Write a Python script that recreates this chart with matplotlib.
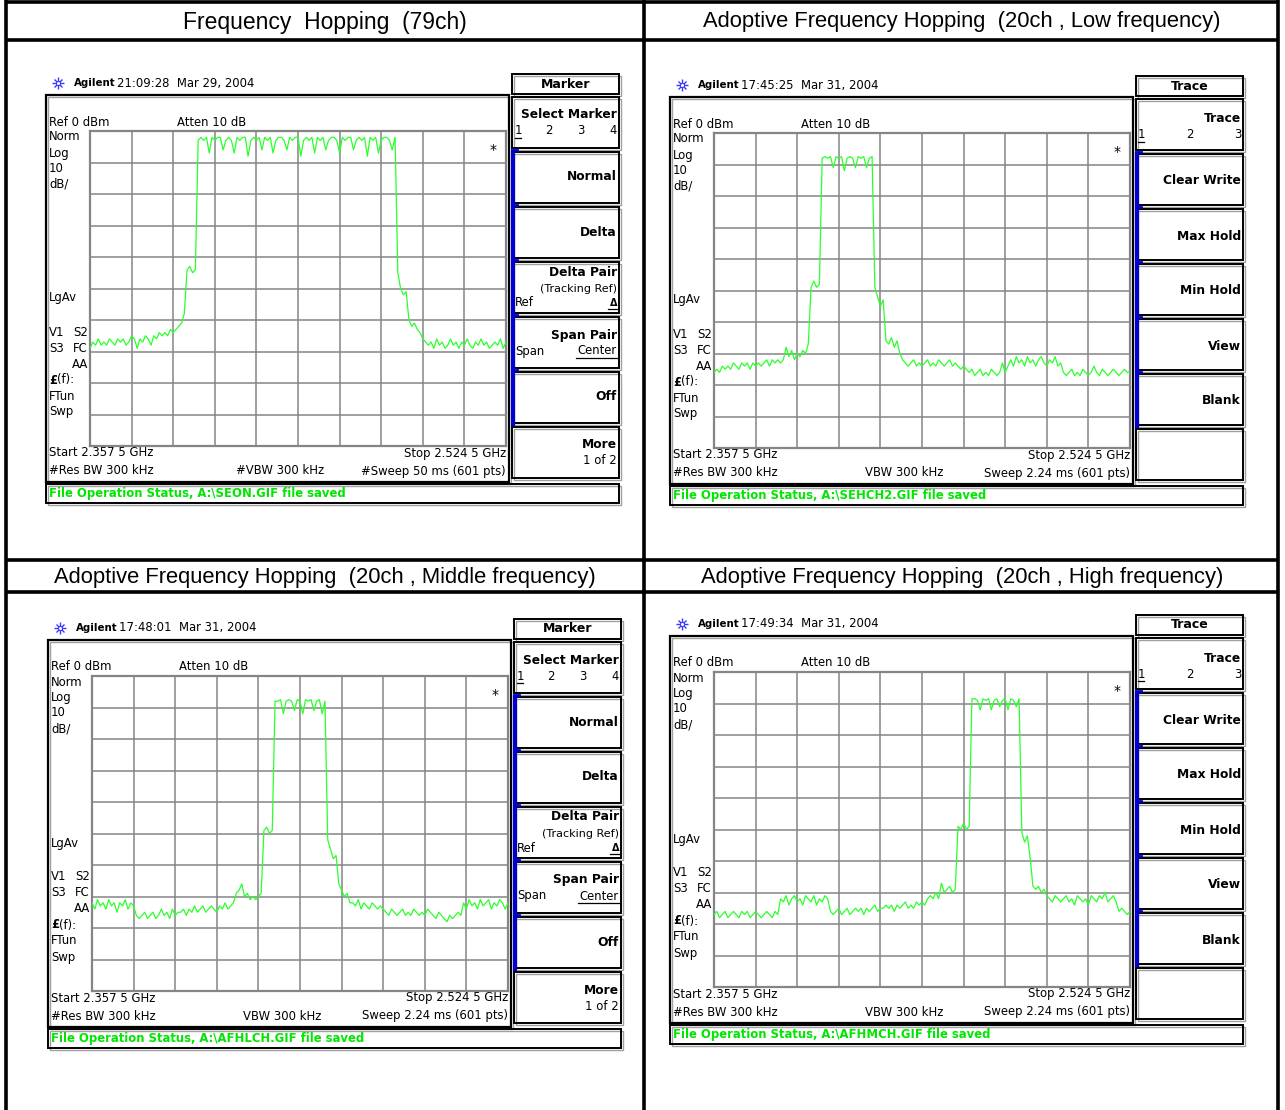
import numpy as np
import matplotlib
matplotlib.use("Agg")
import matplotlib.pyplot as plt
from matplotlib.patches import Rectangle

W, H = 1285, 1110

# sweep settings (same on all four analyzer screens)
f_start = 2357.5   # MHz
f_stop = 2524.5    # MHz
ref_level = 0      # dBm
db_per_div = 10

titles = ["Frequency  Hopping  (79ch)",
          "Adoptive Frequency Hopping  (20ch , Low frequency)",
          "Adoptive Frequency Hopping  (20ch , Middle frequency)",
          "Adoptive Frequency Hopping  (20ch , High frequency)"]

# trace levels in dBm (every 4th of the 601 sweep points)
fh79_level = [
    -69, -67, -68, -66, -68, -67, -68, -66, -67, -68, -66, -67, -66, -68, -67, -65,
    -66, -69, -66, -67, -65, -66, -68, -65, -66, -64, -65, -64, -65, -63, -64, -63,
    -62, -61, -58, -44, -43, -45, -44, -3,
    -2, -3, -2, -7, -2, -3, -2, -2, -6, -3, -2, -3, -7, -2, -3, -2, -2, -8, -3, -2,
    -3, -2, -6, -2, -3, -2, -7, -3, -2, -2, -3, -6, -2, -3, -2, -2, -8, -3, -2, -3,
    -2, -7, -2, -3, -2, -6, -3, -2, -2, -3, -7, -2, -3, -2, -2, -6, -3, -2, -3, -2,
    -8, -2, -3, -2, -7, -3, -2, -2, -3, -6, -2,
    -45, -50, -52, -51, -60, -62, -61, -63, -64, -66,
    -67, -68, -67, -69, -66, -68, -67, -69, -68, -66, -68, -67, -69, -67, -68, -66,
    -68, -69, -67, -68, -66, -68, -67, -69, -68, -67, -68, -66, -69, -67]

afh_low_level = [
    -76, -75, -76, -74, -75, -74, -75, -73, -74, -75, -73, -74, -73, -75, -73, -74,
    -73, -74, -73, -72, -74, -72, -73, -72, -73, -72,
    -68, -71, -69, -72, -70, -71, -69, -70, -67, -49, -47, -49, -48, -8,
    -7.5, -8, -7.5, -11, -7.5, -8, -7.5, -12, -8, -7.5, -8, -11, -7.5, -8, -7.5, -11,
    -8, -7.5,
    -49, -52, -55, -53, -66, -67, -65, -68, -66, -70, -72,
    -73, -74, -73, -72, -74, -73, -74, -73, -72, -74, -73, -74, -72, -73, -74, -73,
    -72, -74, -73, -74, -75, -74,
    -75, -76, -75, -77, -76, -75, -77, -76, -77, -75, -76, -77, -76,
    -73, -76, -74,
    -72, -74, -71, -73, -72, -74, -71, -73, -72, -74, -72, -71, -73, -74, -72, -73,
    -71, -74, -73,
    -76, -77, -76, -75, -77, -76, -77, -75, -76, -77, -76,
    -74, -76, -77, -75, -76, -77, -76, -75, -76, -77, -76, -75, -76, -76]

afh_mid_level = [
    -72, -74, -71, -73, -72, -74, -71, -73, -72, -75, -72, -73, -71, -74, -72, -73,
    -76, -77, -76, -75, -77, -76, -75, -77, -76, -74, -76, -75, -77, -74, -76, -75,
    -75, -74, -76, -74, -75, -73, -75, -74, -73, -75, -74, -73, -74, -75, -73, -74,
    -72, -74, -73, -72,
    -69, -68, -66, -70, -69, -71, -70, -71, -70, -69, -49, -48, -50, -49, -8,
    -8, -7.5, -12, -8, -7.5, -8, -11, -7.5, -8, -12, -7.5, -8, -7.5, -11, -8, -7.5,
    -12, -8,
    -52, -55, -58, -57, -66, -68, -70, -69, -72,
    -72, -73, -71, -74, -72, -73, -74, -72, -73, -74, -73, -74,
    -75, -76, -74, -75, -76, -75, -74, -76, -75, -76, -74, -75, -76, -75, -76, -74,
    -75, -76, -77, -75, -76, -77, -78,
    -76, -77, -76, -75, -76,
    -72, -74, -71, -73, -72, -74, -71, -73, -72, -71, -74, -72, -73, -71, -72, -74,
    -72]

afh_high_level = [
    -77, -76, -78, -77, -76, -78, -77, -76, -77, -78, -76, -77, -76, -78, -77, -76,
    -77, -78, -77, -76, -77, -78, -76, -77,
    -72, -73, -71, -74, -72, -71, -73, -72, -74, -71, -72, -73, -71, -74, -72, -73,
    -71, -72,
    -76, -77, -76, -75, -77, -76, -75, -77, -76, -75, -76, -75, -77, -75, -76, -75,
    -74, -76, -75,
    -75, -74, -75, -74, -76, -74, -75, -74, -73, -75, -74, -75, -73, -74, -73, -74,
    -72, -71, -72, -70, -72, -67,
    -70, -69, -68, -70, -69,
    -49, -50, -48, -50, -49, -8.5,
    -8.5, -9, -12, -8.5, -9, -8.5, -12, -9, -8.5, -11, -9, -8.5, -12, -8.5, -9, -11,
    -8.5,
    -51, -54, -52, -59, -68, -69, -68, -70, -69,
    -71, -72, -73, -71, -72, -73, -72, -71, -73, -72, -74, -71, -72, -73, -72, -74,
    -71, -72, -73, -71, -72, -70, -73, -72, -71, -73,
    -76, -75, -76, -77, -76]

stamps = ["21:09:28  Mar 29, 2004", "17:45:25  Mar 31, 2004",
          "17:48:01  Mar 31, 2004", "17:49:34  Mar 31, 2004"]
files = ["SEON.GIF", "SEHCH2.GIF", "AFHLCH.GIF", "AFHMCH.GIF"]
vbw_labels = ["#VBW 300 kHz", "VBW 300 kHz", "VBW 300 kHz", "VBW 300 kHz"]
sweep_labels = ["#Sweep 50 ms (601 pts)", "Sweep 2.24 ms (601 pts)",
                "Sweep 2.24 ms (601 pts)", "Sweep 2.24 ms (601 pts)"]
menus = ["Marker", "Trace", "Marker", "Trace"]
traces = [fh79_level, afh_low_level, afh_mid_level, afh_high_level]

# pixel offset of each screen grab relative to the top-left one
offsets = [(0, 0), (624, 2), (2, 545), (624, 541)]

TRACE_GREEN = "#2cff2c"
STATUS_GREEN = "#00e600"
GRID_GRAY = "#858585"
SCREEN_FONT = "DejaVu Sans"
FS = 8.4      # normal screen text
FS_KEY = 8.8  # bold softkey labels

fig = plt.figure(figsize=(W / 100, H / 100), dpi=100)
bg = fig.add_axes([0, 0, 1, 1])
bg.set_xlim(0, W)
bg.set_ylim(H, 0)
bg.axis("off")


def txt(x, y, s, ha="left", size=FS, bold=False, color="black", **kw):
    bg.text(x, y, s, ha=ha, va="center", fontsize=size, color=color,
            family=SCREEN_FONT, fontweight="bold" if bold else "normal", **kw)


def box(x0, y0, x1, y1, lw=1.4):
    # light shadow line then the black outline, like the analyzer's bevel
    bg.add_patch(Rectangle((x0 + 1.5, y0 + 1.5), x1 - x0, y1 - y0, fill=False,
                           edgecolor="#a0a0a0", lw=1.0))
    bg.add_patch(Rectangle((x0, y0), x1 - x0, y1 - y0, fill=False,
                           edgecolor="black", lw=lw))


def underline(x0, x1, y):
    bg.plot([x0, x1], [y, y], color="black", lw=0.9)


def softkeys(ox, oy, menu):
    x0, x1 = 512 + ox, 619 + ox
    box(x0, 74 + oy, x1, 94 + oy)
    txt((x0 + x1) / 2, 84 + oy, menu, ha="center", size=9, bold=True)
    for k in range(7):
        top = 97 + 55 * k + oy
        box(x0, top, x1, top + 51)
    bg.plot([x0 + 1, x0 + 1], [150 + oy, 426 + oy], color="#0000d0", lw=3,
            solid_capstyle="butt")
    for k in range(1, 6):
        yb = 97 + 55 * k + oy
        bg.plot([x0, x0 + 5], [yb - 2, yb - 2], color="#0000d0", lw=2)
    r = x1 - 2
    if menu == "Marker":
        txt(r, 115 + oy, "Select Marker", ha="right", size=FS_KEY, bold=True)
        for n, xx in zip("1234", [518, 549, 581, 613]):
            txt(xx + ox, 131 + oy, n, ha="center")
        underline(515 + ox, 521 + ox, 138 + oy)
        txt(r, 177 + oy, "Normal", ha="right", size=FS_KEY, bold=True)
        txt(r, 232 + oy, "Delta", ha="right", size=FS_KEY, bold=True)
        txt(r, 272 + oy, "Delta Pair", ha="right", size=FS_KEY, bold=True)
        txt(r, 289 + oy, "(Tracking Ref)", ha="right", size=8)
        txt(515 + ox, 303 + oy, "Ref")
        txt(r, 303 + oy, "\u0394", ha="right", size=7, bold=True)
        underline(608 + ox, 617 + ox, 309 + oy)
        txt(r, 335 + oy, "Span Pair", ha="right", size=FS_KEY, bold=True)
        txt(515 + ox, 351 + oy, "Span")
        txt(r, 351 + oy, "Center", ha="right")
        underline(576 + ox, 617 + ox, 358 + oy)
        txt(r, 397 + oy, "Off", ha="right", size=FS_KEY, bold=True)
        txt(r, 445 + oy, "More", ha="right", size=FS_KEY, bold=True)
        txt(r, 461 + oy, "1 of 2", ha="right")
    else:
        txt(r, 117 + oy, "Trace", ha="right", size=FS_KEY, bold=True)
        for n, xx in zip("123", [517, 566, 614]):
            txt(xx + ox, 133 + oy, n, ha="center")
        underline(514 + ox, 520 + ox, 140 + oy)
        for k, lab in enumerate(["Clear Write", "Max Hold", "Min Hold",
                                 "View", "Blank"]):
            txt(r, 179 + 55 * k + oy, lab, ha="right", size=FS_KEY, bold=True)


def screen(idx):
    ox, oy = offsets[idx]
    # header line
    sx, sy = 58 + ox, 83 + oy
    bg.plot([sx], [sy], marker="+", ms=9, color="#3a3aff", mew=1)
    bg.plot([sx], [sy], marker="x", ms=6, color="#3a3aff", mew=1)
    bg.plot([sx], [sy], marker="o", ms=3, color="#3a3aff", mfc="white", mew=0.8)
    txt(74 + ox, sy, "Agilent", size=7.4, bold=True)
    txt(117 + ox, sy, stamps[idx], size=8.4)

    # instrument display frame
    box(46 + ox, 95 + oy, 509 + ox, 482 + oy, lw=1.6)
    txt(49 + ox, 122 + oy, "Ref 0 dBm")
    txt(177 + ox, 122 + oy, "Atten 10 dB")
    for lab, yy in [("Norm", 137), ("Log", 153), ("10", 168), ("dB/", 184),
                    ("LgAv", 298), ("V1", 332), ("S3", 348),
                    ("FTun", 396), ("Swp", 412)]:
        txt(49 + ox, yy + oy, lab)
    txt(88 + ox, 332 + oy, "S2", ha="right")
    txt(88 + ox, 348 + oy, "FC", ha="right")
    txt(88 + ox, 364 + oy, "AA", ha="right")
    txt(49 + ox, 380 + oy, "\u00a3", bold=True)
    txt(57 + ox, 380 + oy, "(f):")
    txt(493 + ox, 150 + oy, "*", ha="center", size=10)
    txt(49 + ox, 453 + oy, "Start 2.357 5 GHz")
    txt(506 + ox, 453 + oy, "Stop 2.524 5 GHz", ha="right")
    txt(49 + ox, 471 + oy, "#Res BW 300 kHz")
    txt(280 + ox, 471 + oy, vbw_labels[idx], ha="center")
    txt(506 + ox, 471 + oy, sweep_labels[idx], ha="right")

    # status line
    box(46 + ox, 484 + oy, 619 + ox, 503 + oy, lw=1.4)
    txt(49 + ox, 493.5 + oy, "File Operation Status, A:\\%s file saved" % files[idx],
        size=8.4, bold=True, color=STATUS_GREEN)

    softkeys(ox, oy, menus[idx])

    # graticule + trace on real frequency / level axes
    gx0, gy0, gx1, gy1 = 90 + ox, 131 + oy, 506 + ox, 446 + oy
    ax = fig.add_axes([gx0 / W, 1 - gy1 / H, (gx1 - gx0) / W, (gy1 - gy0) / H])
    ax.patch.set_alpha(0)
    ax.set_xlim(f_start, f_stop)
    ax.set_ylim(ref_level - 10 * db_per_div, ref_level)
    ax.set_xticks(np.linspace(f_start, f_stop, 11))
    ax.set_yticks(np.arange(ref_level - 10 * db_per_div, ref_level + 1, db_per_div))
    ax.tick_params(length=0, labelbottom=False, labelleft=False)
    ax.grid(True, color=GRID_GRAY, lw=1.1)
    for s in ax.spines.values():
        s.set_color(GRID_GRAY)
        s.set_linewidth(1.6)
    lev = np.array(traces[idx], dtype=float)
    freq = np.linspace(f_start, f_stop, len(lev))
    ax.plot(freq, lev, color=TRACE_GREEN, lw=0.9, zorder=3)


for i in range(4):
    screen(i)

# table frame and cell titles
LW = 2.6
for yy in [1.5, 40, 560, 592]:
    bg.plot([6, 1278], [yy, yy], color="black", lw=LW, solid_capstyle="butt")
for xx in [6, 644, 1278]:
    bg.plot([xx, xx], [0, H], color="black", lw=LW, solid_capstyle="butt")
title_sizes = [16.5, 15.8, 15.8, 15.8]
for t, fs, (cx, cy) in zip(titles, title_sizes,
                           [(325, 22), (962, 22), (325, 577), (962, 577)]):
    bg.text(cx, cy, t, ha="center", va="center", fontsize=fs,
            family="Liberation Sans")

fig.savefig("out.png", dpi=100)
